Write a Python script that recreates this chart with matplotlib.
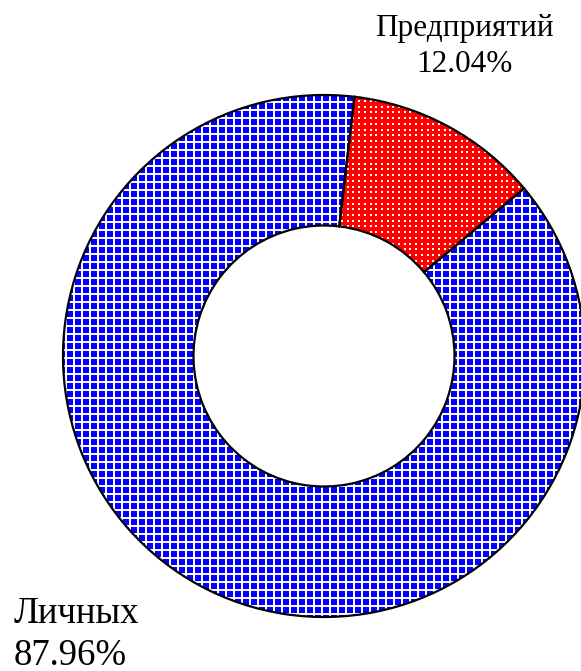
import matplotlib
matplotlib.use("Agg")
import matplotlib.pyplot as plt
import numpy as np

categories = ["Предприятий", "Личных"]
values = [12.04, 87.96]
colors = ["#ff0000", "#0000ff"]

plt.rcParams["font.family"] = ["Liberation Serif", "DejaVu Serif"]

W, H = 581, 671
fig = plt.figure(figsize=(W / 100, H / 100), dpi=100)
ax = fig.add_axes([0, 0, 1, 1])

center = (324, H - 356)
radius = 261
ring = radius * 0.5
start = 83.3

wedges, _ = ax.pie(values, colors=colors, startangle=start, counterclock=False,
                   center=center, radius=radius,
                   wedgeprops=dict(width=ring, linewidth=0, zorder=1))
red_w, blue_w = wedges

# blue: white grid texture
grid_step = 8
for y in np.arange(1, H, grid_step):
    ln = ax.axhline(y, color="white", linewidth=1.44, zorder=2, antialiased=False)
    ln.set_clip_path(blue_w)
for x in np.arange(2, W, grid_step):
    ln = ax.axvline(x, color="white", linewidth=1.44, zorder=2, antialiased=False)
    ln.set_clip_path(blue_w)

# red: white dot texture
dot_step = 5.7
gx, gy = np.meshgrid(np.arange(0, W, dot_step), np.arange(0, H, dot_step))
sc = ax.scatter(gx.ravel(), gy.ravel(), s=1.3, marker="s", c="white",
                linewidths=0, zorder=2)
sc.set_clip_path(red_w)

ax.pie(values, colors=["none"] * len(values), startangle=start, counterclock=False,
       center=center, radius=radius,
       wedgeprops=dict(width=ring, edgecolor="black", linewidth=1.6, fill=False,
                       zorder=5))

ax.set_xlim(0, W)
ax.set_ylim(0, H)
ax.set_aspect("equal")
ax.axis("off")

fig.text(464 / W, 1 - 72 / H, f"{categories[0]}\n{values[0]:.2f}%",
         ha="center", va="baseline", ma="center", fontsize=22.5, linespacing=1.3)
fig.text(14 / W, 1 - 665 / H, f"{categories[1]}\n{values[1]:.2f}%",
         ha="left", va="baseline", ma="left", fontsize=26.5, linespacing=1.3)

fig.savefig("out.png", dpi=100)
